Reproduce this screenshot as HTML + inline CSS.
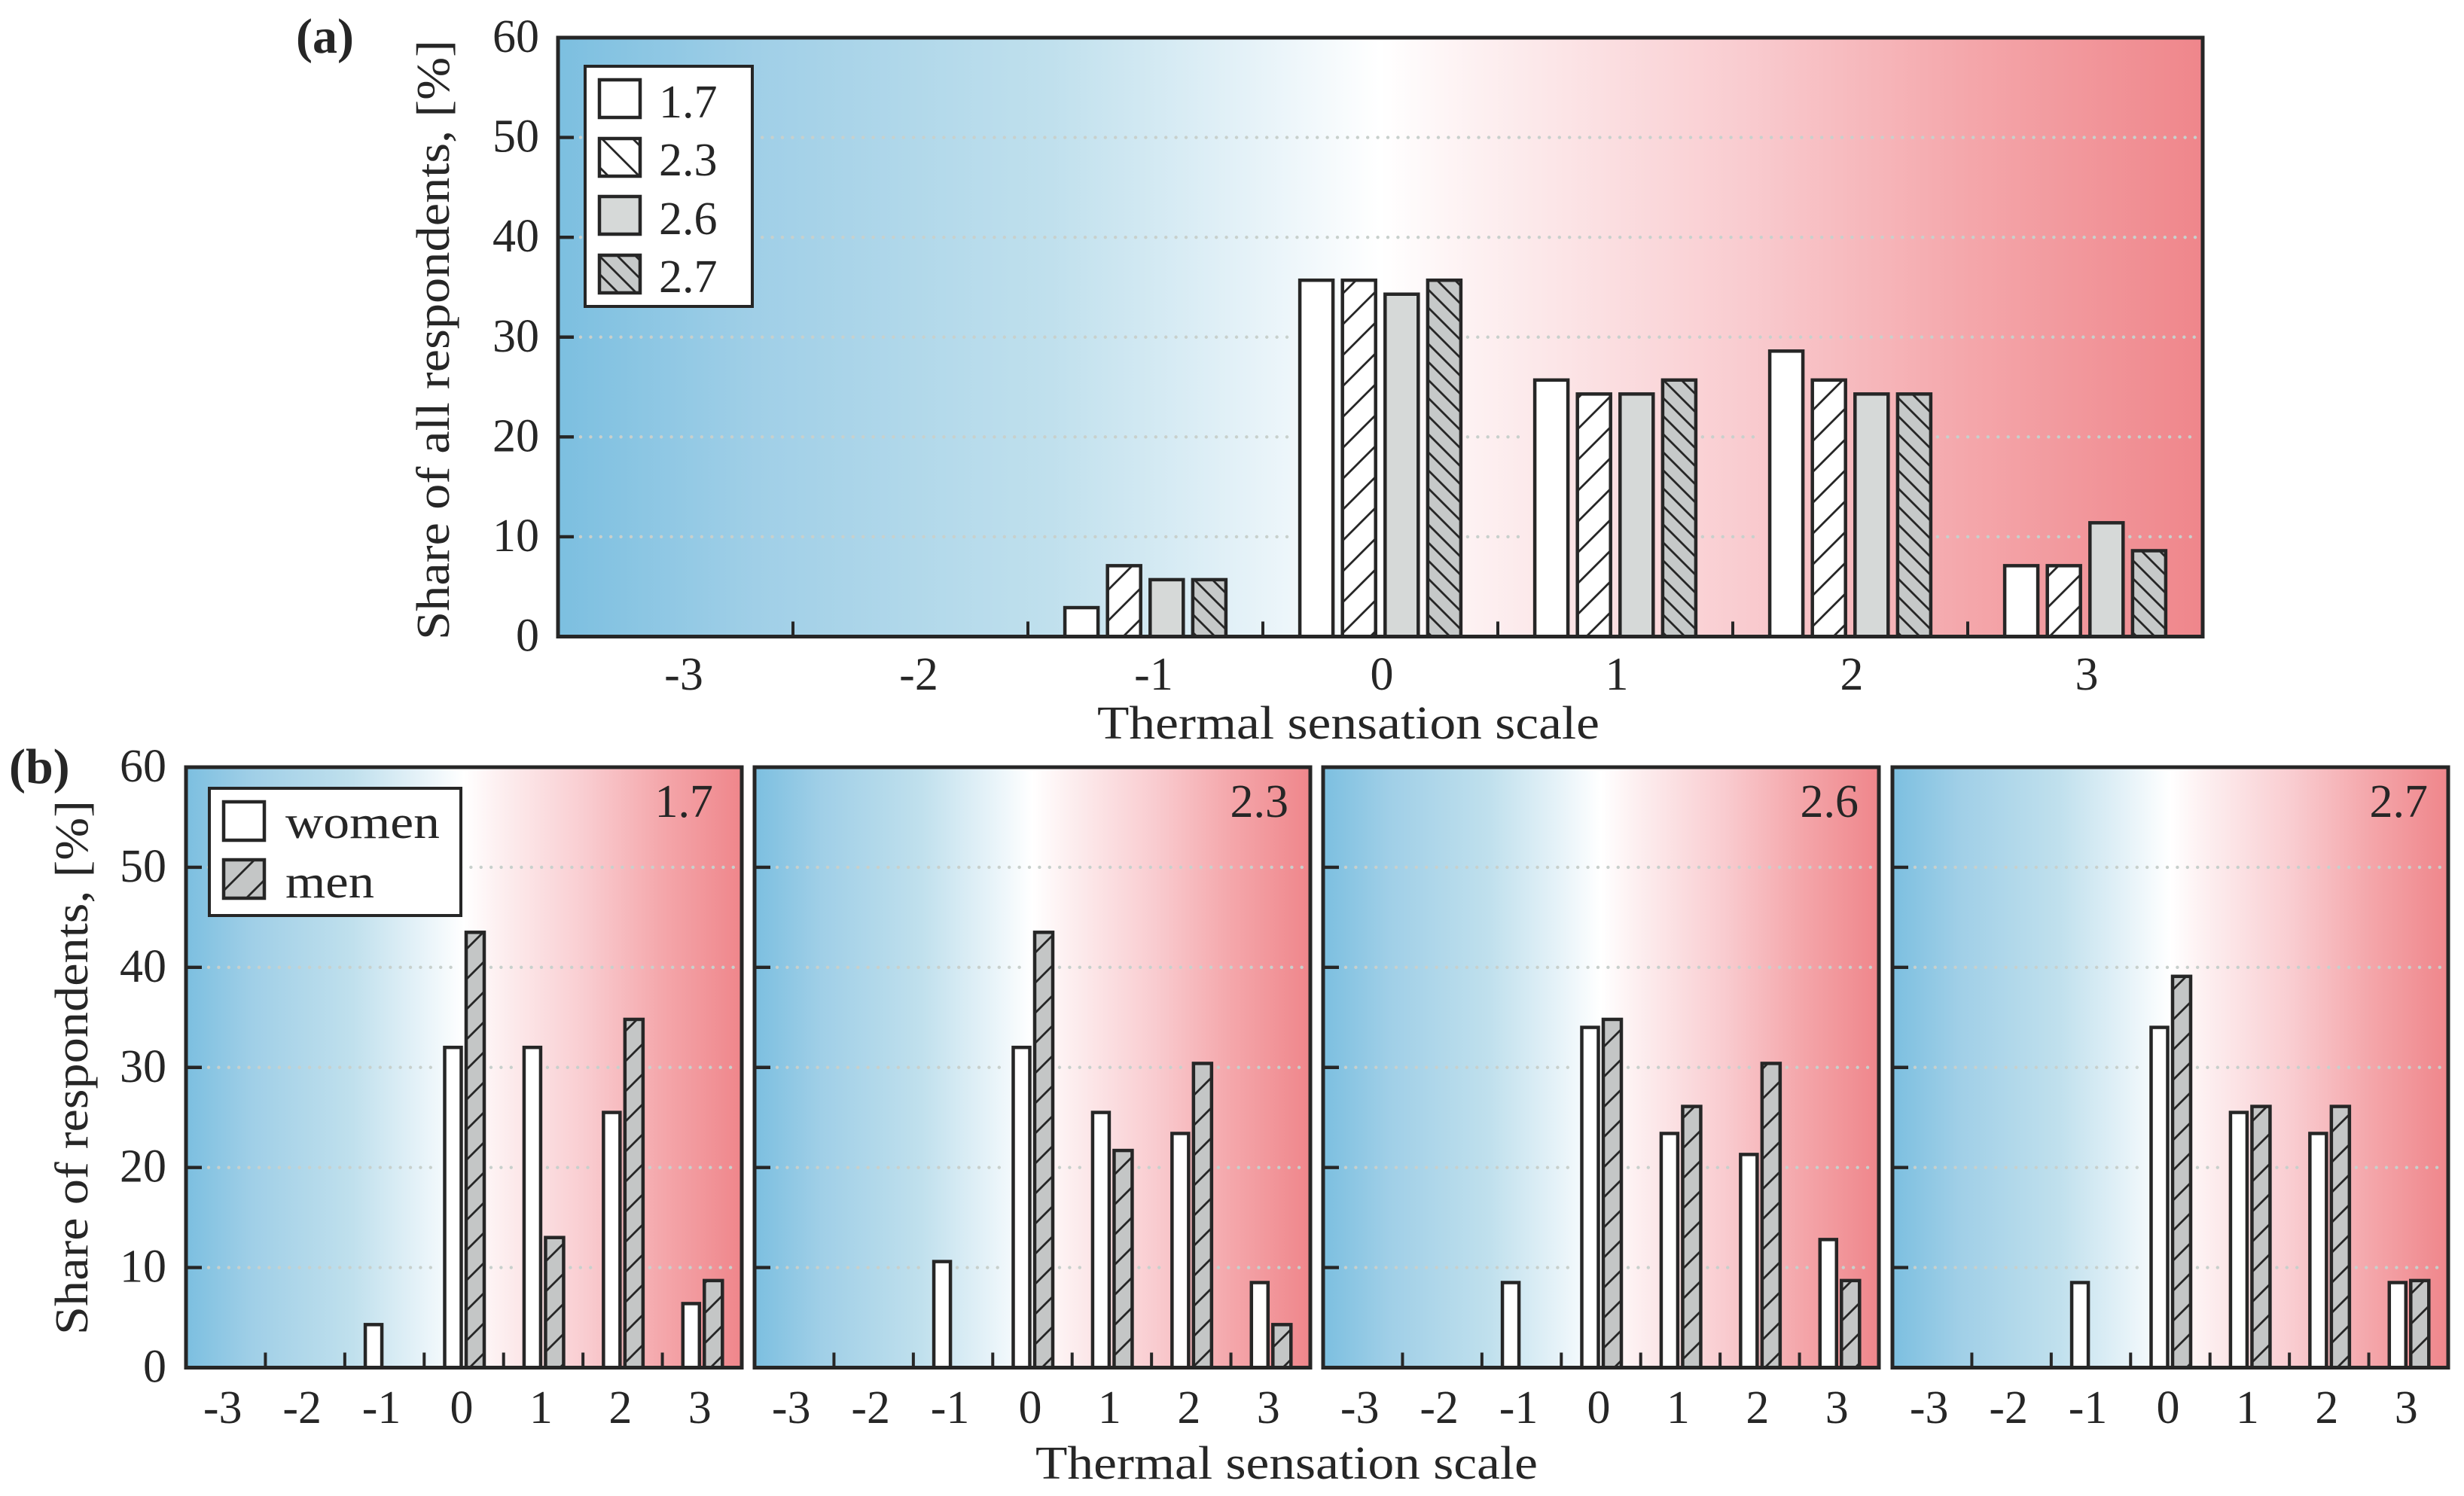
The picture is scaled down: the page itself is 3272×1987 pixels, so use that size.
<!DOCTYPE html>
<html lang="en">
<head>
<meta charset="utf-8">
<title>Thermal sensation scale charts</title>
<style>
html,body{margin:0;padding:0;background:#fff}
svg{display:block}
text{font-family:"Liberation Serif","DejaVu Serif",serif;fill:#262626}
</style>
</head>
<body>
<svg id="figure" xmlns="http://www.w3.org/2000/svg" width="3272" height="1987" viewBox="0 0 3272 1987">
<defs>
<linearGradient id="thermalGradient" x1="0" x2="1" y1="0" y2="0">
<stop offset="0" stop-color="#7cbfe0"/>
<stop offset="0.12" stop-color="#a0cfe7"/>
<stop offset="0.3" stop-color="#c0e0ed"/>
<stop offset="0.42" stop-color="#e5f2f8"/>
<stop offset="0.5" stop-color="#ffffff"/>
<stop offset="0.56" stop-color="#fdf0f1"/>
<stop offset="0.72" stop-color="#f9ccd0"/>
<stop offset="0.86" stop-color="#f4a6aa"/>
<stop offset="1" stop-color="#ef868b"/>
</linearGradient>
<pattern id="hatchWhiteFwd" patternUnits="userSpaceOnUse" width="41" height="41">
<rect width="41" height="41" fill="#fff"/>
<path d="M0 41L41 0M-3 3L3 -3M38 44L44 38" stroke="#262626" stroke-width="2.8" fill="none"/>
</pattern>
<pattern id="hatchWhiteBack" patternUnits="userSpaceOnUse" width="41" height="41">
<rect width="41" height="41" fill="#fff"/>
<path d="M0 0L41 41M-3 38L3 44M38 -3L44 3" stroke="#262626" stroke-width="2.8" fill="none"/>
</pattern>
<pattern id="hatchGrayBack" patternUnits="userSpaceOnUse" width="24" height="24">
<rect width="24" height="24" fill="#c6c9c9"/>
<path d="M0 0L24 24M-3 21L3 27M21 -3L27 3" stroke="#262626" stroke-width="2.8" fill="none"/>
</pattern>
<pattern id="hatchGrayFwd" patternUnits="userSpaceOnUse" width="40" height="40">
<rect width="40" height="40" fill="#c4c6c6"/>
<path d="M0 40L40 0M-3 3L3 -3M37 43L43 37" stroke="#262626" stroke-width="2.8" fill="none"/>
</pattern>
</defs>
<text x="393" y="70" font-size="66" font-weight="bold">(a)</text>
<text x="12" y="1040" font-size="66" font-weight="bold">(b)</text>
<text transform="translate(596 850) rotate(-90)" font-size="62" textLength="797" lengthAdjust="spacingAndGlyphs">Share of all respondents, [%]</text>
<text transform="translate(116 1773) rotate(-90)" font-size="62" textLength="710" lengthAdjust="spacingAndGlyphs">Share of respondents, [%]</text>
<text x="1457" y="981" font-size="62" textLength="667" lengthAdjust="spacingAndGlyphs">Thermal sensation scale</text>
<text x="1375" y="1964" font-size="62" textLength="667" lengthAdjust="spacingAndGlyphs">Thermal sensation scale</text>
</svg>
<script>
const categories = ['-3', '-2', '-1', '0', '1', '2', '3'];
const yTicks = [0, 10, 20, 30, 40, 50, 60];

const allRespondents17 = [0, 0, 2.9, 35.7, 25.7, 28.6, 7.1];
const allRespondents23 = [0, 0, 7.1, 35.7, 24.3, 25.7, 7.1];
const allRespondents26 = [0, 0, 5.7, 34.3, 24.3, 24.3, 11.4];
const allRespondents27 = [0, 0, 5.7, 35.7, 25.7, 24.3, 8.6];

const women17 = [0, 0, 4.3, 32.0, 32.0, 25.5, 6.4];
const men17 = [0, 0, 0, 43.5, 13.0, 34.8, 8.7];
const women23 = [0, 0, 10.6, 32.0, 25.5, 23.4, 8.5];
const men23 = [0, 0, 0, 43.5, 21.7, 30.4, 4.3];
const women26 = [0, 0, 8.5, 34.0, 23.4, 21.3, 12.8];
const men26 = [0, 0, 0, 34.8, 26.1, 30.4, 8.7];
const women27 = [0, 0, 8.5, 34.0, 25.5, 23.4, 8.5];
const men27 = [0, 0, 0, 39.1, 26.1, 26.1, 8.7];

const svg = document.getElementById('figure');
const NS = 'http://www.w3.org/2000/svg';
const INK = '#262626';

function make(tag, attrs, text) {
  const node = document.createElementNS(NS, tag);
  for (const key in attrs) node.setAttribute(key, attrs[key]);
  if (text !== undefined) node.textContent = text;
  svg.appendChild(node);
  return node;
}

function drawPanel(p) {
  const right = p.left + p.width;
  const band = p.width / categories.length;
  const xCenter = i => p.left + band * (i + 0.5);
  const yScale = v => p.base - v / 60 * (p.base - p.top);

  const bg = make('rect', {x: p.left, y: p.top, width: p.width, height: p.base - p.top, fill: 'url(#thermalGradient)'});
  
  

  // bar extents, shared between the grid gaps and the bars
  const bars = [];
  p.series.forEach((s, si) => {
    s.values.forEach((v, i) => {
      const x = xCenter(i) + s.offset;
      bars.push({x, v, i, si, fill: s.fill, name: s.name, w: s.width});
    });
  });

  // dotted gridlines, interrupted around bars that cross them
  yTicks.forEach(t => {
    if (t === 0 || t === 60) return;
    const y = yScale(t);
    const gaps = bars.filter(b => b.v > t)
      .map(b => [b.x - b.w / 2 - 9, b.x + b.w / 2 + 9])
      .sort((a, b) => a[0] - b[0]);
    let start = p.left + 30;
    const segs = [];
    gaps.forEach(g => {
      if (g[0] > start) segs.push([start, g[0]]);
      start = Math.max(start, g[1]);
    });
    if (start < right - 8) segs.push([start, right - 8]);
    segs.forEach(seg => {
      const line = make('line', {x1: seg[0], x2: seg[1], y1: y, y2: y, stroke: '#c8d0cc', 'stroke-width': 4.4, 'stroke-linecap': 'round', 'stroke-dasharray': '0 13.4'});
      
      
    });
  });

  // bars
  bars.forEach(b => {
    if (b.v <= 0) return;
    const top = yScale(b.v);
    const bar = make('rect', {x: b.x - b.w / 2, y: top, width: b.w, height: p.base - top, fill: b.fill, stroke: INK, 'stroke-width': 4.5});
    
    
  });

  // frame
  const frame = make('rect', {x: p.left, y: p.top, width: p.width, height: p.base - p.top, fill: 'none', stroke: INK, 'stroke-width': 5});
  
  

  // x ticks and labels
  categories.forEach((c, i) => {
    if (i > 0) {
      const tx = p.left + band * i;
      const tick = make('line', {x1: tx, x2: tx, y1: p.base, y2: p.base - 20, stroke: INK, 'stroke-width': 4});
      
      
    }
    const dx = c.charAt(0) === '-' ? p.negDx : p.posDx;
    const label = make('text', {x: xCenter(i) + dx, y: p.xLabelY, 'font-size': 62, 'text-anchor': 'middle'}, c);
    
    
  });

  // y ticks and labels
  yTicks.forEach(t => {
    const y = yScale(t);
    if (t !== 0 && t !== 60 && p.yTicksOn) {
      const tick = make('line', {x1: p.left, x2: p.left + 21, y1: y, y2: y, stroke: INK, 'stroke-width': 4.4});
      
      
    }
    if (p.yLabelX) {
      const label = make('text', {x: p.yLabelX, y: y + 19, 'font-size': 62, 'text-anchor': 'end'}, String(t));
      
      
    }
  });

  if (p.tag) {
    const tag = make('text', {x: right - p.tagInset, y: p.top + 66, 'font-size': 62, 'text-anchor': 'end'}, p.tag);
    
    
  }
}

const stepA = 56.6;
drawPanel({
  id: 'panel-a', left: 741, width: 2184, top: 50, base: 845.5,
  negDx: 11, posDx: 2, xLabelY: 916, yLabelX: 716, yTicksOn: true,
  series: [
    {name: '1.7', values: allRespondents17, fill: '#ffffff', offset: -1.5 * stepA, width: 44},
    {name: '2.3', values: allRespondents23, fill: 'url(#hatchWhiteFwd)', offset: -0.5 * stepA, width: 44},
    {name: '2.6', values: allRespondents26, fill: '#d6d9d8', offset: 0.5 * stepA, width: 44},
    {name: '2.7', values: allRespondents27, fill: 'url(#hatchGrayBack)', offset: 1.5 * stepA, width: 44}
  ]
});

const genderBars = (w, m) => [
  {name: 'women', values: w, fill: '#ffffff', offset: -14.5, width: 22},
  {name: 'men', values: m, fill: 'url(#hatchGrayFwd)', offset: 15, width: 24}
];
drawPanel({id: 'panel-b-1', left: 247, width: 738, top: 1019, base: 1816.5, negDx: -4, posDx: -3, xLabelY: 1890, yLabelX: 221, yTicksOn: true, tag: '1.7', tagInset: 38, series: genderBars(women17, men17)});
drawPanel({id: 'panel-b-2', left: 1002, width: 738, top: 1019, base: 1816.5, negDx: -4, posDx: -3, xLabelY: 1890, yTicksOn: true, tag: '2.3', tagInset: 29, series: genderBars(women23, men23)});
drawPanel({id: 'panel-b-3', left: 1757, width: 738, top: 1019, base: 1816.5, negDx: -4, posDx: -3, xLabelY: 1890, yTicksOn: true, tag: '2.6', tagInset: 27, series: genderBars(women26, men26)});
drawPanel({id: 'panel-b-4', left: 2513, width: 738, top: 1019, base: 1816.5, negDx: -4, posDx: -3, xLabelY: 1890, yTicksOn: true, tag: '2.7', tagInset: 27, series: genderBars(women27, men27)});

// legend for panel (a)
const legendA = make('rect', {x: 777, y: 88, width: 222, height: 319, fill: '#fff', stroke: INK, 'stroke-width': 4});


[['1.7', '#ffffff', 106, 156], ['2.3', 'url(#hatchWhiteBack)', 184, 233], ['2.6', '#d6d9d8', 261, 311], ['2.7', 'url(#hatchGrayBack)', 339, 388]].forEach(e => {
  const sw = make('rect', {x: 796, y: e[2], width: 54, height: 50, fill: e[1], stroke: INK, 'stroke-width': 4.5});
  
  
  const tx = make('text', {x: 875, y: e[3], 'font-size': 62}, e[0]);
  
  
});

// legend for panel (b)
const legendB = make('rect', {x: 278, y: 1047, width: 334, height: 169, fill: '#fff', stroke: INK, 'stroke-width': 4});


[['women', '#ffffff', 1065, 1113, 205], ['men', 'url(#hatchGrayFwd)', 1142, 1192, 118]].forEach(e => {
  const sw = make('rect', {x: 297, y: e[2], width: 54, height: 51, fill: e[1], stroke: INK, 'stroke-width': 4.5});
  
  
  const tx = make('text', {x: 379, y: e[3], 'font-size': 62, textLength: e[4], lengthAdjust: 'spacingAndGlyphs'}, e[0]);
  
  
});
</script>
</body>
</html>
